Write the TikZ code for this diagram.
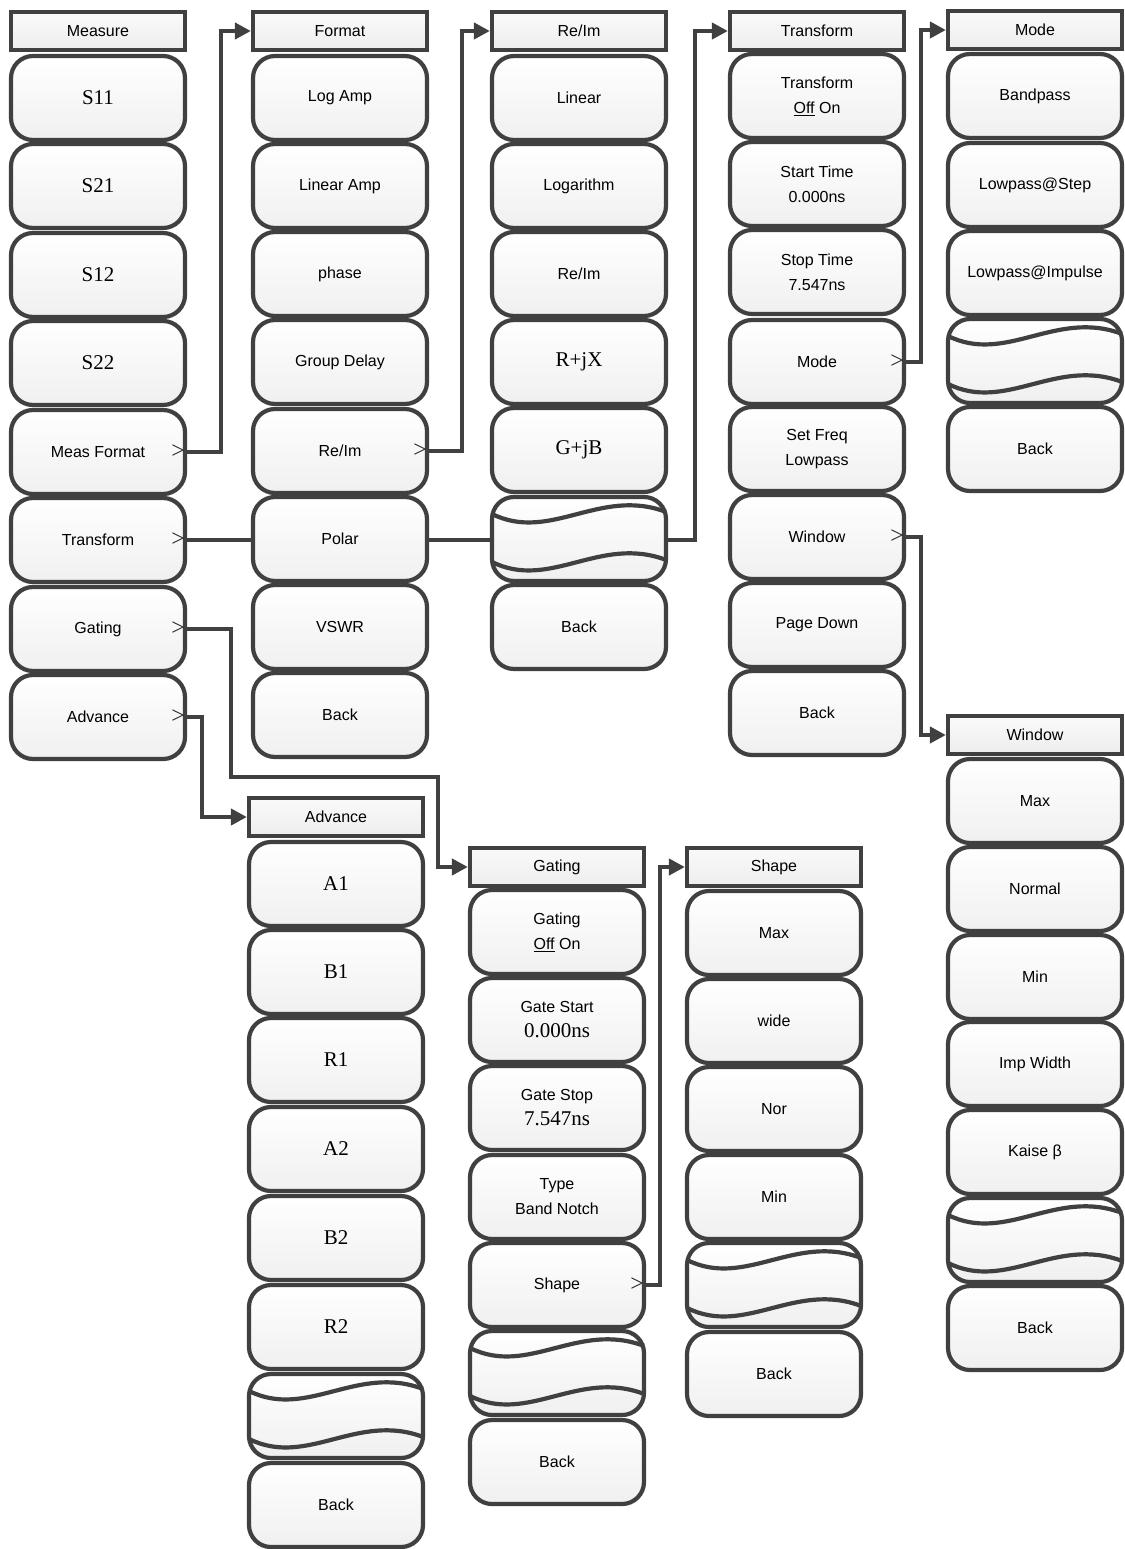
\documentclass[tikz,border=0pt]{standalone}
\usepackage{fontspec}
\setmainfont{Liberation Sans}
\newfontfamily\timesfont{Liberation Serif}
\usetikzlibrary{arrows.meta,backgrounds}
\definecolor{edgegray}{HTML}{404040}
\newcommand{\blankwaves}[1]{%
  \begin{scope}[shift={(#1.north west)}]
    \draw[wave] (2,19) .. controls (60,48) and (110,-8) .. (176,17);
    \draw[wave] (2,67) .. controls (60,96) and (110,40) .. (176,65);
  \end{scope}}
\newcommand{\tms}[1]{{\timesfont\fontsize{21}{25}\selectfont #1}}

\begin{document}
\begin{tikzpicture}[x=1pt, y=-1pt, every node/.style={font=\fontsize{16}{25}\selectfont},
  hdr/.style={draw=edgegray, line width=4.2pt, top color=black!2, bottom color=black!7, minimum width=174pt, minimum height=38pt, inner sep=0pt},
  btn/.style={draw=edgegray, line width=4.2pt, rounded corners=22pt, top color=white, bottom color=black!6, minimum width=174pt, minimum height=84pt, inner sep=0pt, align=center},
  timesbtn/.style={btn, font=\timesfont\fontsize{21}{25}\selectfont},
  more/.style={font=\timesfont\fontsize{24}{24}\selectfont, inner sep=0pt, text=black!85},
  wave/.style={draw=edgegray, line width=4.2pt},
  arrow/.style={draw=edgegray, line width=4.2pt, -{Triangle[length=16pt, width=16pt]}}]
  \useasboundingbox (0,0) rectangle (1124,1549);

  % Measure
  \node[hdr] (measure) at (98,31) {Measure};
  \node[timesbtn] (s11) at (98,98) {S11};
  \node[timesbtn] (s21) at (98,186) {S21};
  \node[timesbtn] (s12) at (98,275) {S12};
  \node[timesbtn] (s22) at (98,363) {S22};
  \node[btn] (measfmt) at (98,452) {Meas Format};
  \node[btn] (meastrf) at (98,540) {Transform};
  \node[btn] (measgate) at (98,629) {Gating};
  \node[btn] (measadv) at (98,717) {Advance};

  % Format
  \node[hdr] (format) at (340,31) {Format};
  \node[btn] (logamp) at (340,98) {Log Amp};
  \node[btn] (linamp) at (340,186) {Linear Amp};
  \node[btn] (phase) at (340,274) {phase};
  \node[btn] (gdelay) at (340,362) {Group Delay};
  \node[btn] (fmtreim) at (340,451) {Re/Im};
  \node[btn] (polar) at (340,539) {Polar};
  \node[btn] (vswr) at (340,627) {VSWR};
  \node[btn] (fmtback) at (340,715) {Back};

  % Re/Im
  \node[hdr] (reim) at (579,31) {Re/Im};
  \node[btn] (linear) at (579,98) {Linear};
  \node[btn] (logarithm) at (579,186) {Logarithm};
  \node[btn] (reimbtn) at (579,274) {Re/Im};
  \node[timesbtn] (rjx) at (579,362) {R+jX};
  \node[timesbtn] (gjb) at (579,450) {G+jB};
  \node[btn] (reblank) at (579,539) {};
  \node[btn] (reback) at (579,627) {Back};

  % Transform
  \node[hdr] (transform) at (817,31) {Transform};
  \node[btn] (trfonoff) at (817,96) {Transform\\\underline{Off} On};
  \node[btn] (starttime) at (817,184) {Start Time\\0.000ns};
  \node[btn] (stoptime) at (817,272) {Stop Time\\7.547ns};
  \node[btn] (trfmode) at (817,362) {Mode};
  \node[btn] (setfreq) at (817,449) {Set Freq\\Lowpass};
  \node[btn] (trfwin) at (817,537) {Window};
  \node[btn] (pagedown) at (817,625) {Page Down};
  \node[btn] (trfback) at (817,713) {Back};

  % Mode
  \node[hdr] (mode) at (1035,30) {Mode};
  \node[btn] (bandpass) at (1035,96) {Bandpass};
  \node[btn] (lpstep) at (1035,185) {Lowpass@Step};
  \node[btn] (lpimp) at (1035,273) {Lowpass@Impulse};
  \node[btn] (modeblank) at (1035,361) {};
  \node[btn] (modeback) at (1035,449) {Back};

  % Window
  \node[hdr] (window) at (1035,735) {Window};
  \node[btn] (winmax) at (1035,801) {Max};
  \node[btn] (winnormal) at (1035,889) {Normal};
  \node[btn] (winmin) at (1035,977) {Min};
  \node[btn] (impwidth) at (1035,1064) {Imp Width};
  \node[btn] (kaise) at (1035,1152) {Kaise β};
  \node[btn] (winblank) at (1035,1240) {};
  \node[btn] (winback) at (1035,1328) {Back};

  % Advance
  \node[hdr] (advance) at (336,817) {Advance};
  \node[timesbtn] (a1) at (336,884) {A1};
  \node[timesbtn] (b1) at (336,972) {B1};
  \node[timesbtn] (r1) at (336,1060) {R1};
  \node[timesbtn] (a2) at (336,1149) {A2};
  \node[timesbtn] (b2) at (336,1238) {B2};
  \node[timesbtn] (r2) at (336,1327) {R2};
  \node[btn] (advblank) at (336,1416) {};
  \node[btn] (advback) at (336,1505) {Back};

  % Gating
  \node[hdr] (gating) at (557,867) {Gating};
  \node[btn] (gateonoff) at (557,932) {Gating\\\underline{Off} On};
  \node[btn] (gatestart) at (557,1020) {Gate Start\\\tms{0.000ns}};
  \node[btn] (gatestop) at (557,1108) {Gate Stop\\\tms{7.547ns}};
  \node[btn] (gatetype) at (557,1197) {Type\\Band Notch};
  \node[btn] (gateshape) at (557,1285) {Shape};
  \node[btn] (gateblank) at (557,1373) {};
  \node[btn] (gateback) at (557,1462) {Back};

  % Shape
  \node[hdr] (shape) at (774,867) {Shape};
  \node[btn] (shpmax) at (774,933) {Max};
  \node[btn] (shpwide) at (774,1021) {wide};
  \node[btn] (shpnor) at (774,1109) {Nor};
  \node[btn] (shpmin) at (774,1197) {Min};
  \node[btn] (shpblank) at (774,1285) {};
  \node[btn] (shpback) at (774,1374) {Back};

  % blank keys
  \blankwaves{reblank}
  \blankwaves{modeblank}
  \blankwaves{winblank}
  \blankwaves{advblank}
  \blankwaves{gateblank}
  \blankwaves{shpblank}

  % submenu marks
  \node[more] (gtfmt) at ([xshift=-9pt]measfmt.east) {>};
  \node[more] (gttrf) at ([xshift=-9pt]meastrf.east) {>};
  \node[more] (gtgate) at ([xshift=-9pt]measgate.east) {>};
  \node[more] (gtadv) at ([xshift=-9pt]measadv.east) {>};
  \node[more] (gtreim) at ([xshift=-9pt]fmtreim.east) {>};
  \node[more] (gtmode) at ([xshift=-9pt]trfmode.east) {>};
  \node[more] (gtwin) at ([xshift=-9pt]trfwin.east) {>};
  \node[more] (gtshape) at ([xshift=-9pt]gateshape.east) {>};

  \begin{scope}[on background layer]
    \draw[arrow] (measfmt.east) -| ([xshift=-30pt]format.west) -- (format.west);
    \draw[arrow] (meastrf.east) -| ([xshift=-33pt]transform.west) -- (transform.west);
    \draw[arrow] (measgate.east) -- ++(44,0) -- ++(0,148) -| ([xshift=-30pt]gating.west) -- (gating.west);
    \draw[arrow] (measadv.east) -| ([xshift=-45pt]advance.west) -- (advance.west);
    \draw[arrow] (fmtreim.east) -| ([xshift=-28pt]reim.west) -- (reim.west);
    \draw[arrow] (trfmode.east) -| ([xshift=-25pt]mode.west) -- (mode.west);
    \draw[arrow] (trfwin.east) -| ([xshift=-25pt]window.west) -- (window.west);
    \draw[arrow] (gateshape.east) -| ([xshift=-25pt]shape.west) -- (shape.west);
  \end{scope}
\end{tikzpicture}
\end{document}
